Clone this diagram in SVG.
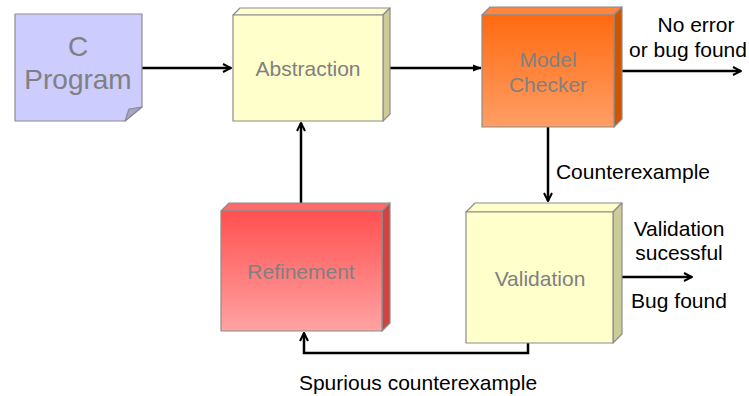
<svg xmlns="http://www.w3.org/2000/svg" width="749" height="396" viewBox="0 0 749 396">
  <defs>
    <linearGradient id="gradOrange" x1="0" y1="0" x2="0" y2="1">
      <stop offset="0" stop-color="#FF6A10"/>
      <stop offset="1" stop-color="#FF9E66"/>
    </linearGradient>
    <linearGradient id="gradRed" x1="0" y1="0" x2="0" y2="1">
      <stop offset="0" stop-color="#FF5050"/>
      <stop offset="1" stop-color="#FFA3A3"/>
    </linearGradient>
    <marker id="arrow" viewBox="0 0 10 10" refX="9" refY="5" markerWidth="10" markerHeight="10" markerUnits="userSpaceOnUse" orient="auto">
      <path d="M1,1 L9,5 L1,9" fill="none" stroke="#000" stroke-width="2"/>
    </marker>
    <marker id="arrowSolid" viewBox="0 0 10 10" refX="9" refY="5" markerWidth="9" markerHeight="9" markerUnits="userSpaceOnUse" orient="auto">
      <path d="M0,1 L10,5 L0,9 Z" fill="#000"/>
    </marker>
  </defs>
  <style>
    .edge { stroke: #000; stroke-width: 2.5; fill: none; }
    .box { stroke: #8C8C8C; stroke-width: 1.2; stroke-linejoin: round; }
    .nodeText { font-family: "Liberation Sans", Arial, sans-serif; fill: #808080; text-anchor: middle; }
    .label { font-family: "Liberation Sans", Arial, sans-serif; fill: #000; font-size: 21px; text-anchor: middle; }
  </style>

  <rect width="749" height="396" fill="#FFFFFF"/>

  <g id="connectors">
    <path class="edge" d="M142,68 H231" marker-end="url(#arrow)"/>
    <path class="edge" d="M390,68 H481" marker-end="url(#arrowSolid)"/>
    <path class="edge" d="M614,71 H741" marker-end="url(#arrow)"/>
    <path class="edge" d="M548,127 V201" marker-end="url(#arrow)"/>
    <path class="edge" d="M613,277 H692" marker-end="url(#arrow)"/>
    <path class="edge" d="M301,211 V123" marker-end="url(#arrow)"/>
    <path class="edge" d="M528,343 V353 H304 V333" marker-end="url(#arrow)"/>
  </g>

  <g id="c-program">
    <path class="box" d="M15,14 H142 V107 L125,121 H15 Z" fill="#CCCCFF"/>
    <path class="box" d="M125,121 L129,109 L142,107 Z" fill="#A3A3CC"/>
    <text class="nodeText" x="78" y="56" font-size="28">C</text>
    <text class="nodeText" x="78" y="89" font-size="28">Program</text>
  </g>

  <g id="abstraction">
    <path class="box" d="M233,15 L240,8 H390 L383,15 Z" fill="#FFFFCC"/>
    <path class="box" d="M383,15 L390,8 V114 L383,121 Z" fill="#CCCC99"/>
    <rect class="box" x="233" y="15" width="150" height="106" fill="#FFFFCC"/>
    <text class="nodeText" x="308" y="76" font-size="21">Abstraction</text>
  </g>

  <g id="model-checker">
    <path class="box" d="M482,15 L490,7 H622 L614,15 Z" fill="#FF8540"/>
    <path class="box" d="M614,15 L622,7 V119 L614,127 Z" fill="#D05500"/>
    <rect class="box" x="482" y="15" width="132" height="112" fill="url(#gradOrange)"/>
    <text class="nodeText" x="548" y="67" font-size="21">Model</text>
    <text class="nodeText" x="548" y="92" font-size="21">Checker</text>
  </g>

  <g id="refinement">
    <path class="box" d="M221,211 L229,203 H390 L382,211 Z" fill="#FF6B6B"/>
    <path class="box" d="M382,211 L390,203 V323 L382,331 Z" fill="#CC4444"/>
    <rect class="box" x="221" y="211" width="161" height="120" fill="url(#gradRed)"/>
    <text class="nodeText" x="301" y="279" font-size="21">Refinement</text>
  </g>

  <g id="validation">
    <path class="box" d="M466,212 L475,203 H622 L613,212 Z" fill="#FFFFCC"/>
    <path class="box" d="M613,212 L622,203 V334 L613,343 Z" fill="#CCCC99"/>
    <rect class="box" x="466" y="212" width="147" height="131" fill="#FFFFCC"/>
    <text class="nodeText" x="540" y="286" font-size="21">Validation</text>
  </g>

  <g id="labels">
    <text class="label" x="696" y="32">No error</text>
    <text class="label" x="688" y="57">or bug found</text>
    <text class="label" x="633" y="179">Counterexample</text>
    <text class="label" x="679" y="236">Validation</text>
    <text class="label" x="679" y="260">sucessful</text>
    <text class="label" x="679" y="308">Bug found</text>
    <text class="label" x="418" y="390">Spurious counterexample</text>
  </g>
</svg>
